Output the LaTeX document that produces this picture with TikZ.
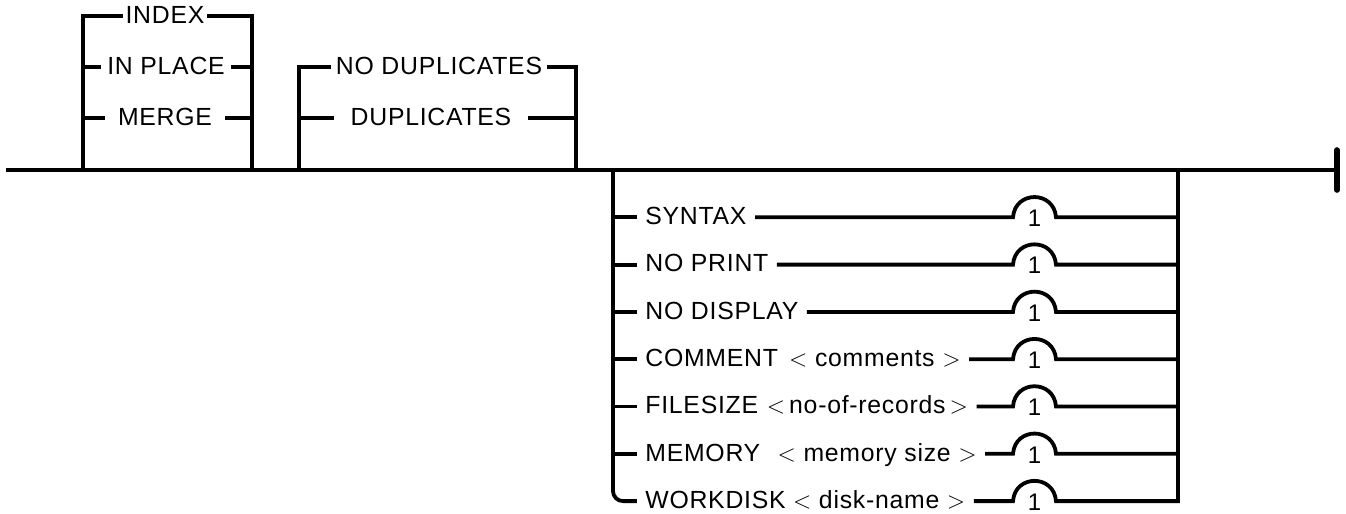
\documentclass[tikz,border=0pt]{standalone}
\usepackage{fontspec}
\setmainfont{Liberation Sans}[LetterSpace=3]
\usetikzlibrary{positioning,calc}

\tikzset{
  rail/.style={line width=1.9pt, line cap=rect},
  lbl/.style={inner xsep=5pt, inner ysep=0pt, text height=0.72em, text depth=0pt},
  onetag/.style={inner sep=0pt, font=\fontsize{12}{13}\selectfont}
}

\begin{document}
\begin{tikzpicture}[x=0.5pt, y=-0.5pt, font=\fontsize{12.4}{14}\selectfont]
  \useasboundingbox (0,0) rectangle (1346,514);
  % main line
  \coordinate (start) at (8,170);
  \coordinate (stop) at (1337,170);
  \draw[rail] (start) -- (stop);
  \draw[line width=2.8pt, line cap=round] ($(stop)+(0,-20)$) -- ($(stop)+(0,20)$);

  % INDEX / IN PLACE / MERGE
  \coordinate (a1) at (83,170);
  \coordinate (a2) at (252,170);
  \node[lbl, inner xsep=2pt] (index) at (165,16) {INDEX};
  \node[lbl, inner xsep=4pt] (inplace) at (166,67) {IN PLACE};
  \node[lbl, inner xsep=7.5pt] (merge) at (165,118) {MERGE};
  \draw[rail] (a1) |- (index.west);
  \draw[rail] (index.east) -| (a2);
  \foreach \n in {inplace,merge}{
    \draw[rail] (a1 |- \n.west) -- (\n.west);
    \draw[rail] (\n.east) -- (a2 |- \n.east);
  }

  % NO DUPLICATES / DUPLICATES
  \coordinate (b1) at (299,170);
  \coordinate (b2) at (576,170);
  \node[lbl, inner xsep=3pt] (nodup) at (439,67) {NO DUPLICATES};
  \node[lbl, inner xsep=9pt] (dup) at (431,118) {DUPLICATES};
  \draw[rail] (b1) |- (nodup.west);
  \draw[rail] (nodup.east) -| (b2);
  \draw[rail] (b1 |- dup.west) -- (dup.west);
  \draw[rail] (dup.east) -- (b2 |- dup.east);

  % options below the line
  \coordinate (c1) at (613,170);
  \coordinate (c2) at (1178,170);
  \foreach \n/\txt [count=\i] in {
      syntax/{SYNTAX},
      noprint/{NO PRINT},
      nodisplay/{NO DISPLAY},
      comment/{COMMENT\hspace{0.45em}$<$ comments $>$},
      filesize/{FILESIZE\hspace{0.35em}$<$\,no-of-records\,$>$},
      memory/{MEMORY\hspace{0.7em}$<$ memory size $>$},
      workdisk/{WORKDISK\hspace{0.3em}$<$ disk-name $>$}}{
    \pgfmathsetmacro{\y}{170+47.3*\i}
    \node[lbl, anchor=west] (\n) at (635,\y) {\txt};
    \coordinate (up\i) at (1013,\y);
    \coordinate (dn\i) at (1056,\y);
    \node[onetag] (one\i) at (1034.5,\y+1) {1};
    \draw[rail] (\n.east) -- (up\i) .. controls +(2,-27) and +(-2,-27) .. (dn\i) -- (c2 |- dn\i);
    \ifnum\i<7 \draw[rail] (c1 |- \n.west) -- (\n.west); \fi
  }
  \draw[rail, rounded corners=5pt] (c1) |- (workdisk.west);
  \draw[rail] (c2) -- (c2 |- dn7);
\end{tikzpicture}
\end{document}
